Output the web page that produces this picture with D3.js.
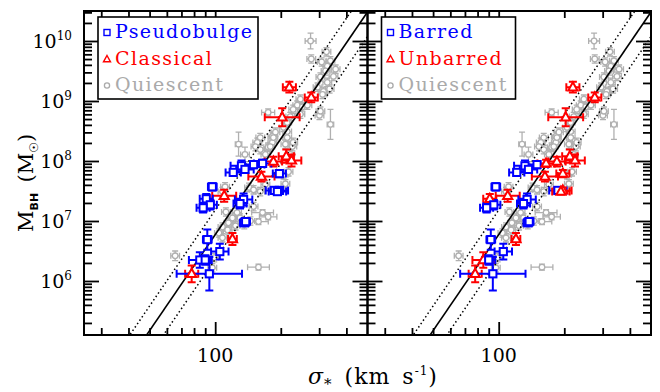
<!DOCTYPE html>
<html>
<head>
<meta charset="utf-8">
<script src="https://cdn.jsdelivr.net/npm/d3@7"></script>
<style>
  body { margin: 0; background: #fff; }
  text { font-family: "DejaVu Serif", serif; }
</style>
</head>
<body>
<svg id="chart" width="660" height="392"></svg>
<script>
// quiescent galaxies: [sigma (km/s), log Mbh, sigma err (dex), log Mbh err (dex)]
const quiescent = [
  [274, 10.00, 0.025, 0.13], [324, 9.82, 0.02, 0.07], [276, 9.70, 0.02, 0.07],
  [308, 9.65, 0.02, 0.07], [327, 9.58, 0.02, 0.07], [338, 9.67, 0.02, 0.07],
  [321, 9.50, 0.02, 0.07], [304, 9.40, 0.02, 0.07], [327, 9.31, 0.02, 0.07],
  [349, 9.41, 0.02, 0.07], [357, 9.53, 0.02, 0.07], [295, 9.23, 0.02, 0.07],
  [314, 9.16, 0.02, 0.07], [335, 9.20, 0.02, 0.07], [246, 9.03, 0.02, 0.07],
  [238, 8.93, 0.02, 0.07], [251, 8.90, 0.02, 0.07], [265, 8.93, 0.02, 0.07],
  [228, 8.86, 0.02, 0.07], [221, 8.74, 0.02, 0.07], [214, 8.64, 0.02, 0.07],
  [301, 8.76, 0.02, 0.07], [304, 8.83, 0.02, 0.07], [338, 8.61, 0.015, 0.25],
  [175, 8.81, 0.03, 0.06], [183, 8.41, 0.02, 0.07], [161, 8.39, 0.02, 0.07],
  [206, 8.56, 0.02, 0.07], [214, 8.49, 0.02, 0.07], [189, 8.48, 0.02, 0.07],
  [128, 8.28, 0.015, 0.20], [156, 8.31, 0.02, 0.07], [161, 8.19, 0.02, 0.07],
  [153, 8.24, 0.02, 0.07], [183, 8.31, 0.02, 0.07], [185, 8.39, 0.02, 0.07],
  [175, 8.23, 0.02, 0.07], [170, 8.11, 0.02, 0.07], [179, 8.24, 0.02, 0.07],
  [226, 8.24, 0.02, 0.07], [228, 8.31, 0.02, 0.07], [221, 8.11, 0.02, 0.07],
  [137, 8.11, 0.02, 0.12], [210, 8.28, 0.02, 0.07], [217, 7.82, 0.02, 0.07],
  [206, 7.77, 0.02, 0.07], [210, 7.62, 0.02, 0.07], [111, 7.57, 0.02, 0.07],
  [108, 7.49, 0.02, 0.07], [143, 7.56, 0.02, 0.07], [150, 7.52, 0.02, 0.07],
  [161, 7.49, 0.02, 0.07], [170, 7.61, 0.02, 0.07], [150, 7.24, 0.02, 0.07],
  [165, 7.14, 0.05, 0.05], [175, 7.07, 0.04, 0.05], [158, 6.99, 0.045, 0.05],
  [145, 7.00, 0.02, 0.07], [136, 6.94, 0.02, 0.07], [112, 7.15, 0.02, 0.07],
  [120, 7.05, 0.02, 0.07], [115, 6.97, 0.02, 0.07], [108, 6.90, 0.02, 0.07],
  [114, 6.85, 0.02, 0.07], [124, 6.92, 0.02, 0.07], [126, 7.14, 0.02, 0.07],
  [130, 7.05, 0.02, 0.07], [104, 6.80, 0.02, 0.07], [108, 6.72, 0.02, 0.07],
  [65.5, 6.42, 0.02, 0.08], [97, 6.22, 0.02, 0.07], [158, 6.23, 0.05, 0.05],
  [99, 6.39, 0.02, 0.07], [246, 8.78, 0.02, 0.07], [311, 9.11, 0.02, 0.07],
  [214, 8.39, 0.02, 0.07]
];

// AGN hosts: [sigma, log Mbh, sigma err (dex), log Mbh err (dex), bulge (P/C), bar (B/U)]
const agn = [
  [219, 9.23, 0.03, 0.09, "C", "U"], [276, 9.06, 0.03, 0.08, "C", "U"],
  [203, 8.73, 0.08, 0.15, "C", "U"], [185, 7.99, 0.04, 0.08, "C", "U"],
  [212, 8.08, 0.035, 0.11, "C", "U"], [224, 8.01, 0.045, 0.10, "C", "U"],
  [163, 7.74, 0.06, 0.08, "C", "U"], [110, 7.42, 0.055, 0.10, "C", "U"],
  [120, 6.70, 0.02, 0.10, "C", "U"], [78, 6.12, 0.03, 0.14, "C", "U"],
  [132, 7.92, 0.05, 0.09, "P", "B"], [121, 7.81, 0.035, 0.05, "P", "B"],
  [137, 7.86, 0.04, 0.06, "P", "B"], [150, 7.94, 0.05, 0.06, "P", "B"],
  [165, 7.96, 0.04, 0.06, "P", "U"], [197, 7.79, 0.03, 0.06, "P", "U"],
  [97, 7.57, 0.02, 0.06, "P", "B"], [91, 7.37, 0.03, 0.08, "P", "U"],
  [95, 7.27, 0.03, 0.08, "P", "B"], [88, 7.22, 0.03, 0.08, "P", "B"],
  [135, 7.36, 0.04, 0.10, "P", "B"], [130, 7.29, 0.03, 0.08, "P", "B"],
  [136, 6.97, 0.02, 0.04, "P", "B"], [138, 6.99, 0.02, 0.04, "P", "B"],
  [92, 6.69, 0.02, 0.17, "P", "B"], [105, 6.49, 0.04, 0.13, "P", "B"],
  [85, 6.35, 0.05, 0.13, "P", "U"], [90, 6.35, 0.03, 0.08, "P", "B"],
  [94, 6.12, 0.15, 0.28, "P", "B"], [187, 7.51, 0.04, 0.05, "P", "B"],
  [197, 7.51, 0.04, 0.05, "P", "U"], [193, 7.49, 0.04, 0.05, "P", "U"]
];

// fit: log M = a + b log(sigma/200), +/- scatter
const fitIntercept = 8.37, fitSlope = 5.31, fitScatter = 0.41;

const sigmaDomain = [25, 500];
const logMassDomain = [5.1, 10.5];
const xMajorTicks = [100];
const xMinorTicks = [30, 40, 50, 60, 70, 80, 90, 200, 300, 400];
const yMajorPowers = [6, 7, 8, 9, 10];

const panels = [
  {key: 4, labels: ["Pseudobulge", "Classical", "Quiescent"], codes: ["P", "C"], boxW: 160},
  {key: 5, labels: ["Barred", "Unbarred", "Quiescent"], codes: ["B", "U"], boxW: 134}
];
const legendColors = ["#0000ff", "#ff0000", "#aaaaaa"];

const margin = {top: 11, left: 84},
  panelW = 283.5,
  panelH = 324;

const svg = d3.select("#chart");

const x = d3.scaleLog().domain(sigmaDomain).range([0, panelW]);
const y = d3.scaleLog().domain(logMassDomain.map(d => Math.pow(10, d))).range([panelH, 0]);

// minor ticks for log y axis
let yMinorTicks = [];
for (let n = 5; n <= 10; n++) {
  for (let k = 2; k <= 9; k++) {
    const v = k * Math.pow(10, n);
    if (v > y.domain()[0] && v < y.domain()[1]) yMinorTicks.push(v);
  }
}

const trianglePath = "M0,-5L4.6,3.2L-4.6,3.2Z";

panels.forEach(function(p, i) {
  const g = svg.append("g")
    .attr("transform", `translate(${margin.left + i * panelW}, ${margin.top})`);

  g.append("clipPath").attr("id", "clip" + i)
    .append("rect").attr("width", panelW).attr("height", panelH);

  const plot = g.append("g").attr("clip-path", `url(#clip${i})`);

  // quiescent points
  drawErrors(plot, quiescent, d => "#b0b0b0", 1.3, 3);
  plot.selectAll("circle.q")
    .data(quiescent)
    .join("circle")
      .attr("class", "q")
      .attr("cx", d => x(d[0]))
      .attr("cy", d => y(Math.pow(10, d[1])))
      .attr("r", 2.8)
      .attr("fill", "#fff")
      .attr("stroke", "#b0b0b0")
      .attr("stroke-width", 1.3);

  // fit lines
  [0, -fitScatter, fitScatter].forEach(function(off) {
    const line = d3.line()
      .x(s => x(s))
      .y(s => y(Math.pow(10, fitIntercept + fitSlope * Math.log10(s / 200) + off)));
    plot.append("path")
      .attr("d", line(sigmaDomain))
      .attr("fill", "none")
      .attr("stroke", "#000")
      .attr("stroke-width", off === 0 ? 1.6 : 1.5)
      .attr("stroke-dasharray", off === 0 ? null : "1.5,2.6");
  });

  // AGN points
  const colorOf = d => (d[p.key] === p.codes[0] ? "#0000ff" : "#ff0000");
  drawErrors(plot, agn, colorOf, 2, 4);
  const marks = plot.selectAll("g.agn")
    .data(agn)
    .join("g")
      .attr("class", "agn")
      .attr("transform", d => `translate(${x(d[0])}, ${y(Math.pow(10, d[1]))})`);
  marks.each(function(d) {
    const m = d3.select(this);
    if (d[p.key] === p.codes[0]) {
      m.append("rect").attr("x", -3.6).attr("y", -3.6).attr("width", 7.2).attr("height", 7.2)
        .attr("fill", "#fff").attr("stroke", colorOf(d)).attr("stroke-width", 2);
    } else {
      m.append("path").attr("d", trianglePath)
        .attr("fill", "#fff").attr("stroke", colorOf(d)).attr("stroke-width", 2);
    }
  });

  // axes (ticks only, inward)
  addTicks(g, d3.axisBottom(x), `translate(0,${panelH})`, xMajorTicks, -13);
  addTicks(g, d3.axisBottom(x), `translate(0,${panelH})`, xMinorTicks, -7);
  addTicks(g, d3.axisTop(x), "translate(0,0)", xMajorTicks, -13);
  addTicks(g, d3.axisTop(x), "translate(0,0)", xMinorTicks, -7);
  const yMajor = yMajorPowers.map(n => Math.pow(10, n));
  addTicks(g, d3.axisLeft(y), "translate(0,0)", yMajor, -15);
  addTicks(g, d3.axisLeft(y), "translate(0,0)", yMinorTicks, -8);
  addTicks(g, d3.axisRight(y), `translate(${panelW},0)`, yMajor, -15);
  addTicks(g, d3.axisRight(y), `translate(${panelW},0)`, yMinorTicks, -8);

  g.append("rect")
    .attr("width", panelW).attr("height", panelH)
    .attr("fill", "none").attr("stroke", "#000").attr("stroke-width", 2);

  // x tick labels
  g.selectAll("text.xl")
    .data(xMajorTicks)
    .join("text")
      .attr("class", "xl")
      .attr("x", d => x(d))
      .attr("y", panelH + 27)
      .attr("text-anchor", "middle")
      .style("font-size", "19px")
      .text(d => d);

  // y tick labels on the left panel only
  if (i === 0) {
    const yl = g.selectAll("text.yl")
      .data(yMajorPowers)
      .join("text")
        .attr("class", "yl")
        .attr("x", -12)
        .attr("y", d => y(Math.pow(10, d)) + 7)
        .attr("text-anchor", "end")
        .style("font-size", "19px");
    yl.append("tspan").text("10");
    yl.append("tspan").attr("dy", -8).style("font-size", "12px").text(d => d);
  }

  // legend
  const leg = g.append("g").attr("transform", "translate(14,6)");
  leg.append("rect")
    .attr("width", p.boxW).attr("height", 82)
    .attr("fill", "#fff").attr("stroke", "#000").attr("stroke-width", 1.6);
  p.labels.forEach(function(lab, j) {
    const base = 21 + j * 26.5;
    const sy = base - 5.5;
    const col = legendColors[j];
    if (j === 0) {
      leg.append("rect").attr("x", 6).attr("y", sy - 3).attr("width", 6).attr("height", 6)
        .attr("fill", "none").attr("stroke", col).attr("stroke-width", 1.4);
    } else if (j === 1) {
      leg.append("path").attr("d", `M9,${sy - 3.5}L12.5,${sy + 2.8}L5.5,${sy + 2.8}Z`)
        .attr("fill", "none").attr("stroke", col).attr("stroke-width", 1.4);
    } else {
      leg.append("circle").attr("cx", 9).attr("cy", sy).attr("r", 2.6)
        .attr("fill", "none").attr("stroke", col).attr("stroke-width", 1.3);
    }
    leg.append("text")
      .attr("x", 17).attr("y", base)
      .attr("fill", col)
      .style("font-size", "19px")
      .style("letter-spacing", "1.4px")
      .text(lab);
  });
});

// axis titles
const yTitle = svg.append("text")
  .attr("transform", "translate(33,232) rotate(-90)")
  .style("font-size", "21px");
yTitle.append("tspan").text("M");
yTitle.append("tspan").attr("dy", 5).style("font-size", "11px")
  .style("font-family", "DejaVu Sans").style("font-weight", "bold").text("BH");
yTitle.append("tspan").attr("dy", -5).text("\u2002(M");
yTitle.append("tspan").attr("dy", 5).style("font-size", "12px")
  .style("font-family", "DejaVu Sans").text("\u2609");
yTitle.append("tspan").attr("dy", -5).text(")");

const xTitle = svg.append("text")
  .attr("x", 373).attr("y", 384)
  .attr("text-anchor", "middle")
  .style("font-size", "22px")
  .style("letter-spacing", "1px");
xTitle.append("tspan").style("font-style", "italic").text("\u03c3");
xTitle.append("tspan").attr("dy", 5).style("font-size", "15px").text("*");
xTitle.append("tspan").attr("dy", -5).text("\u2002(km\u2002s");
xTitle.append("tspan").attr("dy", -9).style("font-size", "12px").text("-1");
xTitle.append("tspan").attr("dy", 9).text(")");

function addTicks(g, axis, transform, values, size) {
  g.append("g")
    .attr("transform", transform)
    .call(axis.tickValues(values).tickSize(size).tickFormat(""))
    .call(a => a.select(".domain").remove())
    .selectAll("line")
      .attr("stroke", "#000")
      .attr("stroke-width", 1.8);
}

function drawErrors(g, data, color, width, cap) {
  const eg = g.append("g").attr("fill", "none").attr("stroke-width", width);
  data.forEach(function(d) {
    const cx = x(d[0]), cy = y(Math.pow(10, d[1]));
    const x0 = x(d[0] * Math.pow(10, -d[2])), x1 = x(d[0] * Math.pow(10, d[2]));
    const y0 = y(Math.pow(10, d[1] - d[3])), y1 = y(Math.pow(10, d[1] + d[3]));
    const path = `M${x0},${cy}H${x1}M${cx},${y0}V${y1}` +
      `M${x0},${cy - cap}V${cy + cap}M${x1},${cy - cap}V${cy + cap}` +
      `M${cx - cap},${y0}H${cx + cap}M${cx - cap},${y1}H${cx + cap}`;
    eg.append("path").attr("d", path).attr("stroke", color(d));
  });
}
</script>
</body>
</html>
